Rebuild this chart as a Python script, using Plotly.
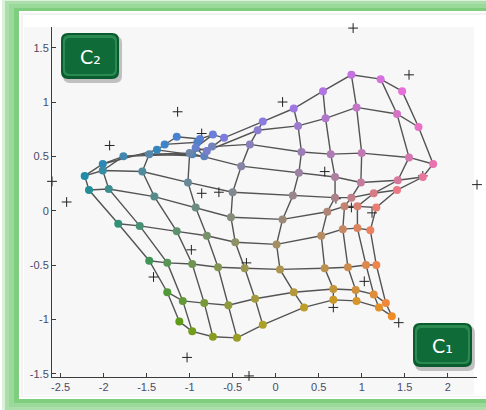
import plotly.graph_objects as go

# ---------------- data ----------------
# SOM grid node positions: one list per grid column, rows listed top -> bottom
som_x = [
    [-1.15, -1.29, -1.38, -2.01, -2.22, -2.17, -1.83, -1.47, -1.26, -1.12],
    [-0.88, -0.91, -0.97, -1.77, -2.01, -1.94, -1.58, -1.26, -1.08, -0.97],
    [-0.73, -0.93, -0.83, -1.47, -1.55, -1.41, -1.15, -0.97, -0.83, -0.73],
    [-0.60, -0.80, -0.74, -1.00, -1.02, -0.93, -0.80, -0.67, -0.55, -0.45],
    [-0.15, -0.21, -0.30, -0.40, -0.50, -0.52, -0.47, -0.36, -0.24, -0.15],
    [0.21, 0.26, 0.30, 0.27, 0.20, 0.08, 0.01, 0.05, 0.21, 0.33],
    [0.55, 0.58, 0.64, 0.69, 0.69, 0.60, 0.53, 0.57, 0.67, 0.67],
    [0.88, 0.94, 1.00, 0.99, 0.88, 0.80, 0.78, 0.84, 0.93, 0.94],
    [1.22, 1.41, 1.55, 1.42, 1.14, 0.95, 0.95, 1.05, 1.14, 1.20],
    [1.47, 1.66, 1.83, 1.71, 1.41, 1.17, 1.10, 1.17, 1.28, 1.35],
]
som_y = [
    [0.68, 0.61, 0.56, 0.43, 0.32, 0.19, -0.12, -0.46, -0.75, -1.02],
    [0.66, 0.63, 0.52, 0.50, 0.37, 0.20, -0.14, -0.48, -0.83, -1.11],
    [0.70, 0.58, 0.50, 0.52, 0.36, 0.13, -0.19, -0.49, -0.85, -1.16],
    [0.67, 0.55, 0.59, 0.53, 0.26, 0.03, -0.23, -0.52, -0.87, -1.17],
    [0.82, 0.74, 0.61, 0.41, 0.17, -0.06, -0.29, -0.53, -0.81, -1.05],
    [0.94, 0.78, 0.54, 0.35, 0.14, -0.08, -0.31, -0.54, -0.75, -0.89],
    [1.10, 0.85, 0.52, 0.31, 0.12, -0.01, -0.23, -0.53, -0.72, -0.82],
    [1.25, 0.95, 0.53, 0.26, 0.12, 0.04, -0.17, -0.52, -0.73, -0.83],
    [1.21, 0.89, 0.49, 0.28, 0.16, 0.04, -0.16, -0.50, -0.77, -0.89],
    [1.10, 0.77, 0.43, 0.31, 0.19, 0.03, -0.18, -0.50, -0.85, -0.97],
]

# raw data samples ("+")
data_x = [-1.14, -1.93, -0.86, -0.86, -0.66, -2.43, 0.90, 1.55, 0.08, 0.57, 1.71, 2.34,
          0.70, 0.88, 1.12, -0.34, 1.03, 0.67, 1.43, -0.98, -1.42, -1.03, -2.60, -0.31]
data_y = [0.91, 0.60, 0.71, 0.16, 0.17, 0.08, 1.68, 1.25, 1.00, 0.36, 0.32, 0.24,
          0.11, 0.03, -0.02, -0.48, -0.65, -0.89, -1.03, -0.36, -0.61, -1.35, 0.27, -1.52]

x_ticks = [-2.5, -2, -1.5, -1, -0.5, 0, 0.5, 1, 1.5, 2]
x_tick_text = ["-2.5", "-2", "-1.5", "-1", "-0.5", "0", "0.5", "1", "1.5", "2"]
y_ticks = [-1.5, -1, -0.5, 0, 0.5, 1, 1.5]
y_tick_text = ["-1.5", "-1", "-0.5", "0", "0.5", "1", "1.5"]
label_texts = ["C₂", "C₁"]

# ---------------- styling helpers ----------------
# colour anchors of the map (top/middle/bottom x left/middle/right)
anchors = [
    [(72, 130, 210), (150, 120, 228), (232, 110, 218)],
    [(28, 140, 165), (140, 137, 130), (234, 122, 122)],
    [(95, 155, 25), (182, 160, 40), (240, 140, 40)],
]


def lerp(a, b, t):
    return tuple(a[i] + (b[i] - a[i]) * t for i in range(3))


def node_color(c, r, nc, nr):
    u = c / (nc - 1) * 2
    v = r / (nr - 1) * 2
    i = min(int(u), 1)
    j = min(int(v), 1)
    fu, fv = u - i, v - j
    top = lerp(anchors[j][i], anchors[j][i + 1], fu)
    bot = lerp(anchors[j + 1][i], anchors[j + 1][i + 1], fu)
    col = lerp(top, bot, fv)
    return "rgb(%d,%d,%d)" % tuple(int(round(k)) for k in col)


ncol = len(som_x)
nrow = len(som_x[0])

fig = go.Figure()

# grid lines
lx, ly = [], []
for c in range(ncol):  # column lines
    lx += som_x[c] + [None]
    ly += som_y[c] + [None]
for r in range(nrow):  # row lines
    lx += [som_x[c][r] for c in range(ncol)] + [None]
    ly += [som_y[c][r] for c in range(ncol)] + [None]
fig.add_trace(go.Scatter(x=lx, y=ly, mode="lines",
                         line=dict(color="#545454", width=1.4),
                         hoverinfo="skip", showlegend=False))

# data samples
fig.add_trace(go.Scatter(x=data_x, y=data_y, mode="markers",
                         marker=dict(symbol="cross-thin", size=7,
                                     line=dict(color="#222222", width=1)),
                         cliponaxis=False, showlegend=False))

# nodes
nx, ny, nc_ = [], [], []
for c in range(ncol):
    for r in range(nrow):
        nx.append(som_x[c][r])
        ny.append(som_y[c][r])
        nc_.append(node_color(c, r, ncol, nrow))
fig.add_trace(go.Scatter(x=nx, y=ny, mode="markers",
                         marker=dict(size=8, color=nc_, line=dict(width=0)),
                         showlegend=False))

# ---------------- decoration (pixel -> paper) ----------------
L, R, T, B = 52, 477, 27, 377


def PX(p):
    return (p - L) / (R - L)


def PY(p):
    return (B - p) / (B - T)


shapes = []


def rect(x0, y0, x1, y1, fill, layer="below"):
    shapes.append(dict(type="rect", xref="paper", yref="paper",
                       x0=PX(x0), x1=PX(x1), y0=PY(y1), y1=PY(y0),
                       fillcolor=fill, line=dict(width=0), layer=layer))


def rrect(x0, y0, x1, y1, rad, fill, layer="above"):
    def p(x, y):
        return "%f,%f" % (PX(x), PY(y))
    path = ("M " + p(x0 + rad, y0) + " L " + p(x1 - rad, y0) + " Q " + p(x1, y0) + " " + p(x1, y0 + rad) +
            " L " + p(x1, y1 - rad) + " Q " + p(x1, y1) + " " + p(x1 - rad, y1) +
            " L " + p(x0 + rad, y1) + " Q " + p(x0, y1) + " " + p(x0, y1 - rad) +
            " L " + p(x0, y0 + rad) + " Q " + p(x0, y0) + " " + p(x0 + rad, y0) + " Z")
    shapes.append(dict(type="path", xref="paper", yref="paper", path=path,
                       fillcolor=fill, line=dict(width=0), layer=layer))


# green glowing frame
rect(2, -2, 530, 414, "rgba(150,215,150,0.35)")
rect(5, 1, 530, 411, "rgba(140,210,140,0.6)")
rect(9, 4, 530, 407, "#9ad99a")
rect(14, 8, 530, 403, "#7fcd7f")
rect(19, 11, 530, 399, "#ffffff")
rect(21, 13, 530, 397, "#f3f3f3")
rect(23, 15, 530, 396, "#ffffff")
rect(24, 27, 474, 395, "#f7f7f7")

# label boxes
boxes = [(61, 33, 119, 79), (413, 323, 472, 367)]
annotations = []
for (x0, y0, x1, y1), txt in zip(boxes, label_texts):
    rrect(x0 + 2, y0 + 3, x1 + 3, y1 + 4, 7, "rgba(0,0,0,0.22)")
    rrect(x0, y0, x1, y1, 7, "#0a5c2f")
    rrect(x0 + 2, y0 + 2, x1 - 2, y1 - 3, 6, "#2a8a52")
    rrect(x0 + 4, y0 + 5, x1 - 4, y1 - 5, 5, "#0f6c38")
    annotations.append(dict(text=txt, x=PX((x0 + x1) / 2), y=PY((y0 + y1) / 2 + 1),
                            xref="paper", yref="paper", xanchor="center", yanchor="middle",
                            showarrow=False,
                            font=dict(family="DejaVu Sans, Lato", size=19, color="white")))

axis_common = dict(showline=True, linecolor="#3c3c3c", linewidth=1,
                   ticks="inside", ticklen=4, tickcolor="#3c3c3c", tickwidth=1,
                   showgrid=False, zeroline=False, mirror=False,
                   tickfont=dict(family="Liberation Sans, Arial", size=11, color="#4a4a68"))

fig.update_layout(
    width=486, height=410,
    margin=dict(l=L, r=486 - R, t=T, b=410 - B),
    paper_bgcolor="white", plot_bgcolor="rgba(0,0,0,0)",
    shapes=shapes, annotations=annotations,
    xaxis=dict(range=[-2.6, 2.34], tickvals=x_ticks, ticktext=x_tick_text, **axis_common),
    yaxis=dict(range=[-1.53, 1.69], tickvals=y_ticks, ticktext=y_tick_text, **axis_common),
    showlegend=False,
)

fig.write_html("out.html", config={"displayModeBar": False},
               post_script="document.body.style.margin='0';document.body.style.padding='0';")
